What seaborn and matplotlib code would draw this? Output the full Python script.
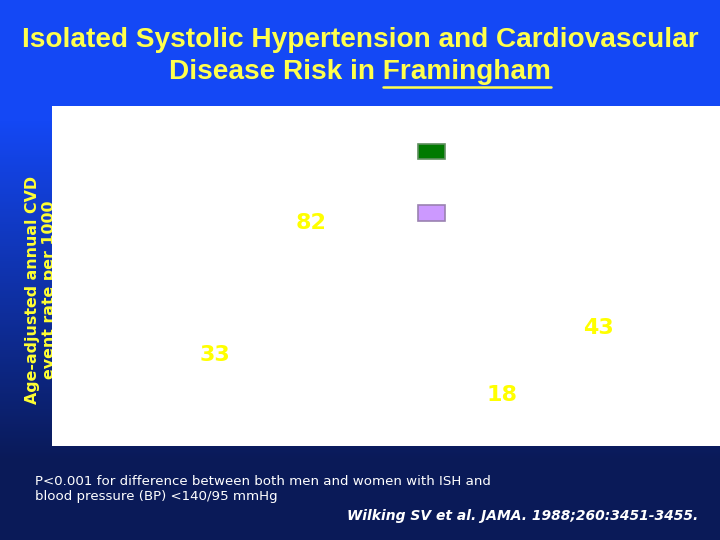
import numpy as np
import pandas as pd
import matplotlib
matplotlib.use("Agg")
import matplotlib.pyplot as plt
from matplotlib.patches import Patch
from matplotlib.lines import Line2D
import seaborn as sns

# ---- data ----
groups = ["Men", "Women"]
series = ["BP <140/95 mmHg", "ISH"]
values_bp_normal = [33, 18]
values_ish = [82, 43]
legend_colors = ["#007a00", "#cc99ff"]
legend_edges = ["#5f8f5f", "#9a82b0"]

df = pd.DataFrame({
    "group": groups * 2,
    "series": [series[0]] * 2 + [series[1]] * 2,
    "rate": values_bp_normal + values_ish,
})

sns.set_theme(style="white")
plt.rcParams["font.family"] = ["DejaVu Sans"]

W, H = 720, 540
fig = plt.figure(figsize=(7.2, 5.4), dpi=100)

# background gradient
bg = fig.add_axes([0, 0, 1, 1], zorder=-10)
rows = np.arange(H)
t = np.clip((rows - 120) / (460 - 120), 0, 1)
top = np.array([20, 72, 245]) / 255
bot = np.array([10, 26, 88]) / 255
grad = top[None, :] * (1 - t[:, None]) + bot[None, :] * t[:, None]
img = np.repeat(grad[:, None, :], 4, axis=1)
bg.imshow(img, aspect="auto", extent=[0, 1, 0, 1], origin="upper")
bg.set_axis_off()

# main plot area
ax = fig.add_axes([52 / W, (H - 446) / H, (W - 52) / W, 340 / H], zorder=0)
ax.set_facecolor("white")
sns.barplot(data=df, x="group", y="rate", hue="series", hue_order=series,
            order=groups, palette=["white", "white"], width=0.67,
            edgecolor="none", legend=False, ax=ax)
ax.set_xlim(-0.735, 1.592)
ax.set_ylim(0, 127)
ax.set_xticks([])
ax.set_yticks([])
ax.set_xlabel("")
ax.set_ylabel("")
for s in ax.spines.values():
    s.set_visible(False)

for cont in ax.containers:
    for bar in cont:
        v = bar.get_height()
        ax.annotate(f"{v:.0f}", (bar.get_x() + bar.get_width() / 2, v),
                    xytext=(0, 2.2), textcoords="offset points",
                    ha="center", va="center", color="#ffff00",
                    fontsize=16, fontweight="bold")

handles = [Patch(facecolor=c, edgecolor=e, linewidth=1.2)
           for c, e in zip(legend_colors, legend_edges)]
leg = ax.legend(handles, series, loc="upper left",
                bbox_to_anchor=(410 / W, 1 - 135 / H),
                bbox_transform=fig.transFigure, frameon=False,
                fontsize=12, handlelength=1.62, handleheight=1.02,
                labelspacing=2.6, borderpad=0, handletextpad=0.6)
for txt in leg.get_texts():
    txt.set_color("white")

# y label drawn beneath the plot area
fig.text(41 / W, 1 - 290 / H, "Age-adjusted annual CVD\nevent rate per 1000",
         rotation=90, ha="center", va="center", multialignment="center",
         color="#ffff33", fontsize=11.4, fontweight="bold", zorder=-5,
         linespacing=1.12)

# title
title_font = ["Liberation Sans", "DejaVu Sans"]
title_color = "#ffff4d"
tsize = 20.2
fig.text(0.5, 1 - 40 / H, "Isolated Systolic Hypertension and Cardiovascular",
         ha="center", va="center", color=title_color, fontsize=tsize,
         fontweight="bold", family=title_font)
t2 = fig.text(0.5, 1 - 72 / H, "Disease Risk in Framingham",
              ha="center", va="center", color=title_color, fontsize=tsize,
              fontweight="bold", family=title_font)
renderer = fig.canvas.get_renderer()
bb = t2.get_window_extent(renderer)
tmp = fig.text(0, 0, "Framingham", fontsize=tsize, fontweight="bold",
               family=title_font)
wbb = tmp.get_window_extent(renderer)
tmp.remove()
uy = 1 - 87 / H
fig.add_artist(Line2D([(bb.x1 - wbb.width) / W, bb.x1 / W], [uy, uy],
                      color=title_color, linewidth=1.8,
                      transform=fig.transFigure))

# footnotes
fig.text(35 / W, 1 - 489 / H,
         "P<0.001 for difference between both men and women with ISH and\n"
         "blood pressure (BP) <140/95 mmHg",
         ha="left", va="center", color="white", fontsize=9.6, linespacing=1.2)
fig.text(698 / W, 1 - 516 / H, "Wilking SV et al. JAMA. 1988;260:3451-3455.",
         ha="right", va="center", color="white", fontsize=10,
         fontweight="bold", fontstyle="italic")

fig.savefig("out.png", dpi=100)
